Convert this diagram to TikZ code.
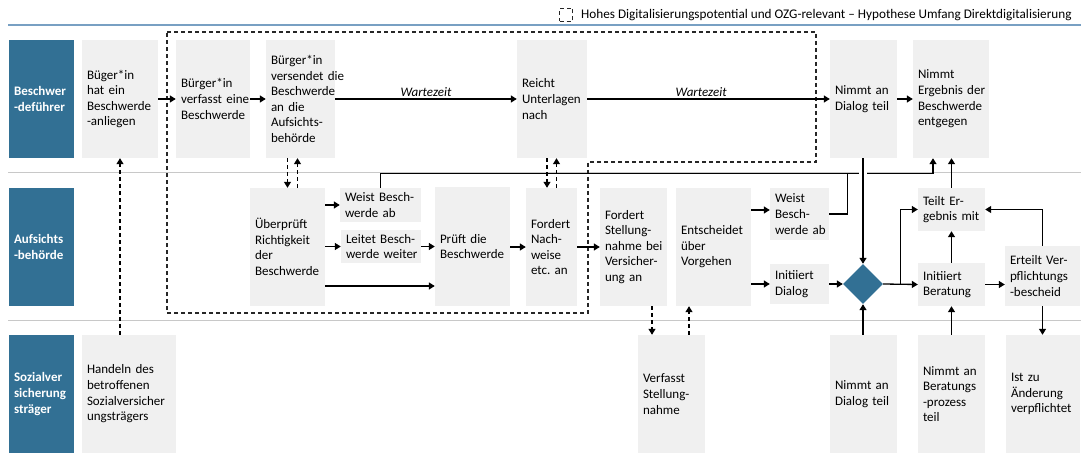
\documentclass[tikz,border=0pt]{standalone}
\usepackage{fontspec}
\setmainfont{Carlito}
\usetikzlibrary{arrows.meta,shapes.geometric,calc}
\definecolor{lanecol}{RGB}{50,112,148}
\definecolor{boxgray}{RGB}{240,240,240}
\definecolor{topline}{RGB}{120,160,195}
\definecolor{sepgray}{RGB}{200,200,200}
\newcommand{\boxfont}{\fontsize{13pt}{15.6pt}\selectfont}
\begin{document}
\begin{tikzpicture}[x=1pt,y=-1pt,
  box/.style={fill=boxgray, draw=none, inner xsep=5pt, inner ysep=0pt, align=left, font=\boxfont},
  lanebox/.style={fill=lanecol, draw=none, text=white, inner xsep=5pt, inner ysep=0pt, align=left,
     font=\boxfont\bfseries, text width=55pt, minimum height=118pt},
  arr/.style={-{Triangle[length=6pt,width=7pt]}, line width=1.3pt},
  ln/.style={line width=1.3pt},
  darr/.style={-{Triangle[length=6pt,width=7pt]}, line width=1.2pt, dash pattern=on 4pt off 3pt},
  dsh/.style={line width=1.2pt, dash pattern=on 4pt off 3pt, draw=black!85},
  wl/.style={above=1pt, font=\boxfont\itshape, inner sep=1pt}
]
\fill[white] (0,0) rectangle (1081,457);
\useasboundingbox (0,0) rectangle (1081,457);

% legend
\node[draw=black!85, line width=1.1pt, dash pattern=on 4pt off 3pt, minimum size=13pt, inner sep=0pt] (lg) at (566,15) {};
\node[anchor=west, font=\fontsize{13.2pt}{15pt}\selectfont, inner sep=0pt] (lgt) at (581,15)
  {Hohes Digitalisierungspotential und OZG-relevant – Hypothese Umfang Direktdigitalisierung};

% lines
\draw[topline, line width=1.5pt] (8,25) -- (1081,25);
\draw[sepgray, line width=1pt] (8,173) -- (1081,173);
\draw[sepgray, line width=1pt] (8,320) -- (1081,320);

% digitalisation zone
\draw[dsh] (167,32) -- (816,32) -- (816,162) -- (588,162) -- (588,313) -- (167,313) -- cycle;

% lanes
\node[lanebox] (L1) at (41.5,99) {Beschwer\\-deführer};
\node[lanebox] (L2) at (41.5,247) {Aufsichts\\-behörde};
\node[lanebox] (L3) at (41.5,394) {Sozialver\\sicherung\\sträger};

% row 1
\node[box, text width=66pt, minimum height=118pt] (b1) at (120,99) {Büger*in\\hat~ein\\Beschwerde\\-anliegen};
\node[box, text width=64pt, minimum height=118pt] (b2) at (213,99) {Bürger*in\\verfasst~eine\\Beschwerde};
\node[box, text width=59pt, minimum height=118pt] (b3) at (300.5,99) {Bürger*in\\versendet~die\\Beschwerde\\an~die\\Aufsichts-\\behörde};
\node[box, text width=60pt, minimum height=118pt] (b4) at (552,99) {Reicht\\Unterlagen\\nach};
\node[box, text width=57pt, minimum height=118pt] (b5) at (863.5,99) {Nimmt~an\\Dialog~teil};
\node[box, text width=66pt, minimum height=118pt] (b6) at (951,99) {Nimmt\\Ergebnis~der\\Beschwerde\\entgegen};

% row 2
\node[box, text width=65pt, minimum height=118pt] (u1) at (287.5,247) {Überprüft\\Richtigkeit\\der\\Beschwerde};
\node[box, text width=71pt, minimum height=34pt] (w1) at (380.5,205) {Weist~Besch-\\werde~ab};
\node[box, text width=70pt, minimum height=33pt] (l1) at (381,246.5) {Leitet~Besch-\\werde~weiter};
\node[box, text width=65pt, minimum height=119pt] (p1) at (472.5,246.5) {Prüft~die\\Beschwerde};
\node[box, text width=41pt, minimum height=118pt] (f1) at (551.5,247) {Fordert\\Nach-\\weise\\etc.~an};
\node[box, text width=57pt, minimum height=118pt] (f2) at (633.5,247) {Fordert\\Stellung-\\nahme~bei\\Versicher-\\ung~an};
\node[box, text width=65pt, minimum height=118pt] (e1) at (713.5,247) {Entscheidet\\über\\Vorgehen};
\node[box, text width=49pt, minimum height=52pt] (w2) at (799.5,214) {Weist\\Besch-\\werde~ab};
\node[box, text width=49pt, minimum height=40pt] (i1) at (799.5,284) {Initiiert\\Dialog};
\node[diamond, aspect=1, fill=lanecol, draw=none, minimum width=40pt, minimum height=40pt, inner sep=0pt] (dia) at (863,284) {};
\node[box, text width=57pt, minimum height=43pt] (t1) at (951.5,209.5) {Teilt~Er-\\gebnis~mit};
\node[box, text width=57pt, minimum height=43pt] (i2) at (951.5,284.5) {Initiiert\\Beratung};
\node[box, text width=65pt, minimum height=60pt] (er) at (1042.5,276) {Erteilt~Ver-\\pflichtungs\\-bescheid};

% row 3
\node[box, text width=84pt, minimum height=118pt] (h1) at (129,394) {Handeln~des\\betroffenen\\Sozialversicher\\ungsträgers};
\node[box, text width=57pt, minimum height=118pt] (v1) at (671.5,394) {Verfasst\\Stellung-\\nahme};
\node[box, text width=57pt, minimum height=118pt] (d3) at (863.5,394) {Nimmt~an\\Dialog~teil};
\node[box, text width=57pt, minimum height=118pt] (n3) at (951.5,394) {Nimmt~an\\Beratungs\\-prozess\\teil};
\node[box, text width=64pt, minimum height=118pt] (z3) at (1043,394) {Ist~zu\\Änderung\\verpflichtet};

% helper coordinates
\coordinate (w2in) at ($(w2.west)+(0,-4)$);
\coordinate (u1low) at ($(u1.east)+(0,39)$);
\coordinate (f2out) at ($(f2.south)+(18.5,0)$);
\coordinate (v1out) at ($(v1.north)+(17.5,0)$);
\coordinate (b6in) at ($(b6.south)+(-18,0)$);
\coordinate (b6turn) at ($(b6.south)+(-18,15)$);
\coordinate (fork) at ($(dia.east)+(17,0)$);
\coordinate (b3dn) at ($(u1.north)+(0,-30)$);
\coordinate (u1up) at ($(u1.north)+(10,0)$);
\coordinate (b4dn) at ($(b4.south)+(-5,0)$);
\coordinate (f1up) at ($(f1.north)+(5,0)$);

% row 1 connectors
\draw[arr] (b1.east) -- (b2.west);
\draw[arr] (b2.east) -- (b3.west);
\draw[arr] (b3.east) -- node[wl]{Wartezeit} (b4.west);
\draw[arr] (b4.east) -- node[wl, pos=0.47]{Wartezeit} (b5.west);
\draw[arr] (b5.east) -- (b6.west);

% dashed inter-lane connectors
\draw[darr] (h1.north -| b1.south) -- (b1.south);
\draw[darr] (b3dn) -- (u1.north);
\draw[darr] (u1up) -- (u1up |- b3.south);
\draw[darr] (b4dn) -- (b4dn |- f1.north);
\draw[darr] (f1up) -- (f1up |- b4.south);
\draw[darr] (f2out) -- (f2out |- v1.north);
\draw[darr] (v1out) -- (v1out |- e1.south);

% row 2 connectors
\draw[arr] (u1.east |- w1.west) -- (w1.west);
\draw[arr] (u1.east |- l1.west) -- (l1.west);
\draw[arr] (l1.east) -- (l1.east -| p1.west);
\draw[arr] (u1low) -- (u1low -| p1.west);
\draw[arr] (p1.east |- f1.west) -- (f1.west);
\draw[arr] (f1.east) -- (f2.west);
\draw[arr] (e1.east |- w2in) -- (w2in);
\draw[arr] (e1.east |- i1.west) -- (i1.west);
\draw[arr] (i1.east) -- (dia.west);
\draw[arr] (dia.east) -- (i2.west);
\draw[arr] (fork) |- (t1.west);
\draw[arr] (i2.north) -- (t1.south);
\draw[arr] (i2.east) -- (i2.east -| er.west);
\draw[arr] (er.north) |- (t1.east);
\draw[arr] (er.south) -- (er.south |- z3.north);
\draw[arr] (n3.north) -- (i2.south);
\draw[arr] (t1.north) -- (t1.north |- b6.south);
\draw[arr] (w1.north) |- (b6turn) -- (b6in);
\draw[ln] (w2.east) -- ++(18,0) -- ++(0,-41);
% gap where the vertical line crosses
\draw[white, line width=4pt] ($(dia.north)+(-4,-91)$) -- ($(dia.north)+(4,-91)$);
\draw[arr] (b5.south -| dia.north) -- (dia.north);
\draw[arr] (d3.north -| dia.south) -- (dia.south);
\end{tikzpicture}
\end{document}
